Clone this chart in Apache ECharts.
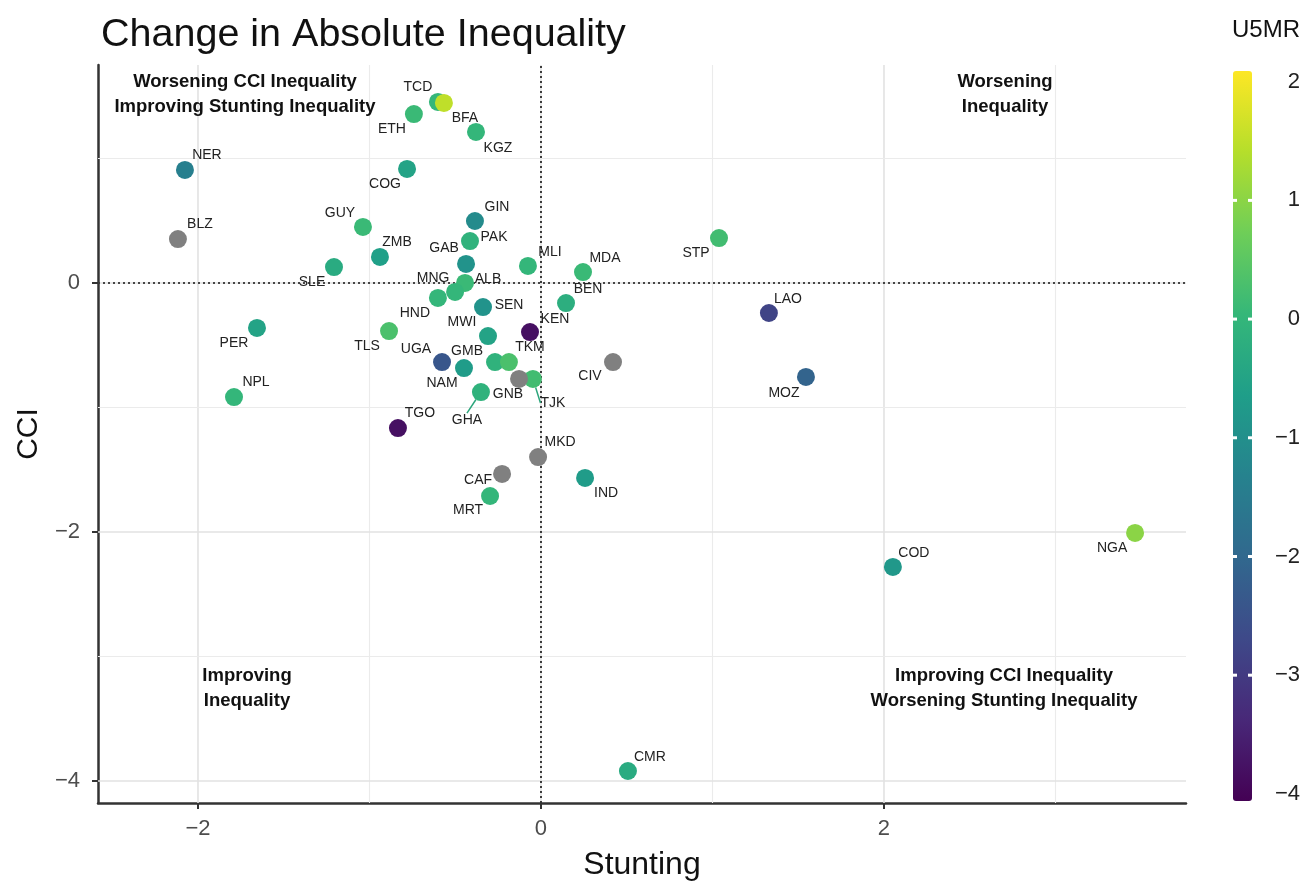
<!DOCTYPE html>
<html>
<head>
<meta charset="utf-8">
<script src="https://cdn.jsdelivr.net/npm/echarts@6/dist/echarts.min.js"></script>
<style>html,body{margin:0;padding:0;background:#fff}#c{width:1311px;height:882px}</style>
</head>
<body>
<div id="c"></div>
<script>
// ---- data ----
const countries = ['TCD','BFA','ETH','KGZ','NER','COG','BLZ','GUY','ZMB','GIN','PAK','GAB','SLE','MLI','MDA','STP','ALB','MNG','HND','TLS','PER','NPL','SEN','KEN','BEN','UGA','MWI','NAM','GMB','TKM','GNB','GHA','TJK','CIV','TGO','MKD','CAF','IND','MRT','LAO','MOZ','COD','NGA','CMR'];
const stunting = [-0.601,-0.566,-0.741,-0.379,-2.076,-0.781,-2.117,-1.038,-0.939,-0.385,-0.414,-0.437,-1.207,-0.076,0.245,1.038,-0.443,-0.501,-0.601,-0.886,-1.656,-1.790,-0.338,-0.064,0.146,-0.577,-0.309,-0.449,-0.268,-0.187,-0.128,-0.350,-0.047,0.420,-0.834,-0.017,-0.227,0.257,-0.297,1.329,1.545,2.052,3.464,0.507];
const cci = [1.454,1.446,1.357,1.213,0.908,0.916,0.353,0.450,0.209,0.498,0.337,0.153,0.128,0.137,0.088,0.361,0.000,-0.072,-0.120,-0.386,-0.361,-0.916,-0.193,-0.394,-0.161,-0.635,-0.426,-0.683,-0.635,-0.635,-0.771,-0.876,-0.771,-0.635,-1.165,-1.398,-1.534,-1.566,-1.711,-0.241,-0.755,-2.281,-2.008,-3.920];
const u5mr = [0.0,1.5,0.1,0.0,-1.4,-0.5,null,0.1,-0.6,-1.1,-0.1,-0.9,-0.3,0.0,0.1,0.2,0.1,0.0,0.0,0.3,-0.5,0.0,-0.9,-3.8,-0.2,-2.4,-0.5,-0.7,-0.1,0.3,null,-0.1,0.2,null,-3.8,null,null,-0.7,0.0,-2.8,-2.1,-0.8,1.0,-0.3];
const xTicks = [-2,0,2];
const yTicks = [-4,-2,0];
const xGrid = [-2,-1,0,1,2,3];
const yGrid = [-4,-3,-2,-1,0,1];
const cbTicks = [-4,-3,-2,-1,0,1,2];

// ---- layout / style ----
const XMIN=-2.583, XMAX=3.761, YMIN=-4.177, YMAX=1.751;
const CB_MIN=-4.06, CB_MAX=2.09, CB_TOP=71, CB_H=730, CB_LEFT=1233, CB_W=19;
const labelOffsets = {
 TCD:[-20,-15],BFA:[21,15],ETH:[-22,15],KGZ:[22,16],NER:[22,-15],COG:[-22,15],BLZ:[22,-15],GUY:[-23,-14],
 ZMB:[17,-15],GIN:[22,-14],PAK:[24,-4],GAB:[-22,-16],SLE:[-22,15],MLI:[22,-14],MDA:[22,-14],STP:[-23,15],
 ALB:[23,-4],MNG:[-22,-14],HND:[-23,15],TLS:[-22,15],PER:[-23,15],NPL:[22,-15],SEN:[26,-2],KEN:[25,-13],
 BEN:[22,-14],UGA:[-26,-13],MWI:[-26,-14],NAM:[-22,15],GMB:[-28,-11],TKM:[21,-15],GNB:[-11,15],GHA:[-14,28],
 TJK:[20,24],CIV:[-23,14],TGO:[22,-15],MKD:[22,-15],CAF:[-24,6],IND:[21,15],MRT:[-22,14],LAO:[19,-14],
 MOZ:[-22,16],COD:[21,-14],NGA:[-23,15],CMR:[22,-14]
};
const withLine = {GHA:true,TJK:true};
const viridis = ['#440154','#482878','#3e4989','#31688e','#26828e','#1f9e89','#35b779','#6ece58','#b5de2b','#fde725'];
const FONT = '"Liberation Sans", Arial, Helvetica, sans-serif';
const minus = v => String(v).replace('-', '\u2212');

const colored = [], grey = [];
countries.forEach((c,i)=>{
  const item = {value:[stunting[i], cci[i], u5mr[i], c], name:c,
    labelLine:{show:!!withLine[c], lineStyle:{color:'#2ca57b', width:1.5}}};
  if (u5mr[i]===null) grey.push(item); else colored.push(item);
});

const labelCfg = {show:true, position:'inside', formatter:p=>p.value[3], color:'#222', fontSize:14, fontFamily:FONT};
const layoutFn = p => {
  const s = p.seriesIndex===0 ? colored : grey;
  const o = labelOffsets[s[p.dataIndex].name] || [0,0];
  return {dx:o[0], dy:o[1]};
};

const gridLine = (axis, vals) => vals.map(v=>({[axis]:v, lineStyle:{color: (v%2===0)?'#e2e2e2':'#ebebeb', width:(v%2===0)?1.6:1.1, type:'solid'}}));

const graphics = [];
// quadrant annotations
const qFont = 'bold 18.5px ' + FONT;
[['Worsening CCI Inequality\nImproving Stunting Inequality',245,69],
 ['Worsening\nInequality',1005,69],
 ['Improving\nInequality',247,663],
 ['Improving CCI Inequality\nWorsening Stunting Inequality',1004,663]].forEach(a=>{
  graphics.push({type:'text', x:a[1], y:a[2], z:10, style:{text:a[0], font:qFont, fill:'#111', textAlign:'center', lineHeight:25}});
});
// colourbar
const stops = viridis.map((c,i)=>({offset:1 - i/(viridis.length-1), color:c}));
graphics.push({type:'rect', z:15, shape:{x:CB_LEFT, y:CB_TOP, width:CB_W, height:CB_H, r:3},
  style:{fill:new echarts.graphic.LinearGradient(0,0,0,1, stops.reverse())}});
graphics.push({type:'text', x:1232, y:18, style:{text:'U5MR', font:'24px '+FONT, fill:'#111'}});
cbTicks.forEach(v=>{
  const y = CB_TOP + (CB_MAX - v)/(CB_MAX-CB_MIN)*CB_H;
  graphics.push({type:'text', x:1300, y:y, style:{text:minus(v), font:'22px '+FONT, fill:'#222', textAlign:'right', textVerticalAlign:'middle'}});
  if (v>-4 && v<2) {
    graphics.push({type:'rect', z:20, shape:{x:CB_LEFT, y:y-1.5, width:4, height:3}, style:{fill:'#fff'}});
    graphics.push({type:'rect', z:20, shape:{x:CB_LEFT+CB_W-4, y:y-1.5, width:4, height:3}, style:{fill:'#fff'}});
  }
});

const chart = echarts.init(document.getElementById('c'), null, {renderer:'canvas'});
chart.setOption({
  animation:false,
  backgroundColor:'#fff',
  textStyle:{fontFamily:FONT},
  title:{text:'Change in Absolute Inequality', left:96, top:10, textStyle:{fontSize:39.5, fontWeight:'normal', color:'#111', fontFamily:FONT}},
  grid:{left:98, right:125, top:65, bottom:79, containLabel:false, outerBoundsMode:'none'},
  xAxis:{type:'value', min:XMIN, max:XMAX, name:'Stunting', nameLocation:'middle', nameGap:46,
    nameTextStyle:{fontSize:32, color:'#111', fontFamily:FONT},
    axisLine:{show:true, onZero:false, lineStyle:{color:'#333', width:2.5}},
    axisTick:{show:true, customValues:xTicks, length:6, lineStyle:{color:'#333', width:2}},
    axisLabel:{customValues:xTicks, formatter:minus, fontSize:22, color:'#4d4d4d', margin:15, fontFamily:FONT},
    splitLine:{show:false}},
  yAxis:{type:'value', min:YMIN, max:YMAX, name:'CCI', nameLocation:'middle', nameGap:53, nameRotate:90,
    nameTextStyle:{fontSize:30, color:'#111', fontFamily:FONT},
    axisLine:{show:true, onZero:false, lineStyle:{color:'#333', width:2.5}},
    axisTick:{show:true, customValues:yTicks, length:6, lineStyle:{color:'#333', width:2}},
    axisLabel:{customValues:yTicks, formatter:minus, fontSize:22, color:'#4d4d4d', margin:18, fontFamily:FONT},
    splitLine:{show:false}},
  visualMap:{type:'continuous', show:false, seriesIndex:0, dimension:2, min:CB_MIN, max:CB_MAX,
    inRange:{color:viridis}},
  graphic:graphics,
  series:[
    {type:'scatter', z:5, symbolSize:18, data:colored, itemStyle:{opacity:1},
     label:labelCfg, labelLayout:layoutFn},
    {type:'scatter', z:5, symbolSize:18, data:grey, itemStyle:{color:'#808080', opacity:1},
     label:labelCfg, labelLayout:layoutFn},
    {type:'scatter', z:1, data:[], silent:true,
     markLine:{silent:true, symbol:'none', label:{show:false}, animation:false,
       data: gridLine('xAxis', xGrid).concat(gridLine('yAxis', yGrid))}},
    {type:'scatter', z:2, data:[], silent:true,
     markLine:{silent:true, symbol:'none', label:{show:false}, animation:false,
       lineStyle:{color:'#111', width:1.6, type:[2,3]},
       data:[{xAxis:0},{yAxis:0}]}}
  ]
});
</script>
</body>
</html>
